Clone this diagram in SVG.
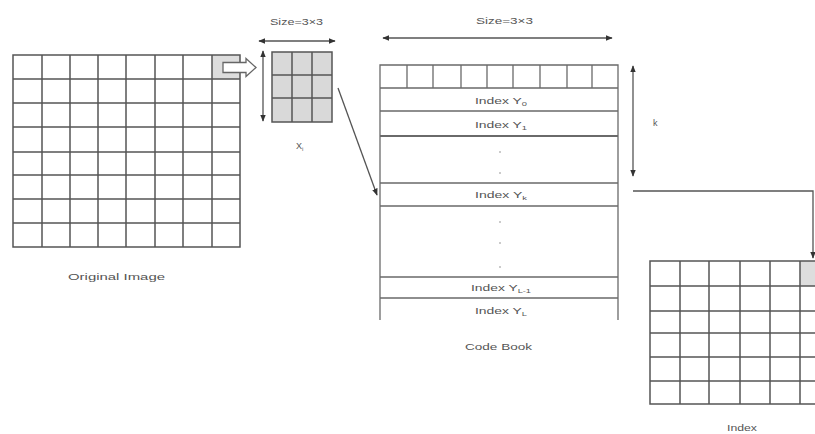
<svg xmlns="http://www.w3.org/2000/svg" width="815" height="434" viewBox="0 0 815 434">
<style>
.g{fill:none;stroke:#555;stroke-width:1.5}
.c{fill:none;stroke:#6a6a6a;stroke-width:1.3}
.t{font-family:"Liberation Sans",Arial,sans-serif;fill:#555;font-size:9px}
.l{fill:none;stroke:#555;stroke-width:1.3}
</style>
<defs>
<marker id="ah" viewBox="0 0 10 10" refX="9" refY="5" markerWidth="7" markerHeight="7" orient="auto-start-reverse" markerUnits="userSpaceOnUse">
<path d="M0,1 L10,5 L0,9 z" fill="#333"/>
</marker>
</defs>
<rect width="815" height="434" fill="#fff"/>

<g id="original-image">
<rect x="212" y="55" width="28" height="24" fill="#ddd"/>
<path class="g" d="M13,55H240V247H13Z M42,55V247 M70,55V247 M98,55V247 M126,55V247 M155,55V247 M183,55V247 M212,55V247 M13,79H240 M13,103H240 M13,127H240 M13,152H240 M13,175H240 M13,199H240 M13,223H240"/>
<text class="t" x="68" y="280" font-size="10" textLength="97" lengthAdjust="spacingAndGlyphs">Original Image</text>
</g>

<g id="block-arrow">
<path d="M223,62.5H246V58.5L256,67.5L246,76.5V72.5H223Z" fill="#fff" stroke="#666" stroke-width="1.3"/>
</g>

<g id="block-xi">
<rect x="272" y="52" width="60" height="70" fill="#d9d9d9"/>
<path class="g" d="M272,52H332V122H272Z M292,52V122 M312,52V122 M272,75H332 M272,98H332"/>
<text class="t" x="296" y="149">X<tspan font-size="6" dy="2">i</tspan></text>
<text class="t" x="270" y="25" textLength="53" lengthAdjust="spacingAndGlyphs">Size=3×3</text>
</g>

<g id="code-book">
<path class="c" d="M380,320V65H618V320 M407,65V88 M433,65V88 M461,65V88 M487,65V88 M513,65V88 M540,65V88 M567,65V88 M592,65V88 M380,88H618 M380,111H618 M380,183H618 M380,206H618 M380,277H618 M380,298H618"/>
<path d="M380,136H618" fill="none" stroke="#6a6a6a" stroke-width="2.2"/>
<text class="t" x="475" y="104" textLength="52" lengthAdjust="spacingAndGlyphs">Index Y<tspan font-size="6" dy="2">0</tspan></text>
<text class="t" x="475" y="128" textLength="52" lengthAdjust="spacingAndGlyphs">Index Y<tspan font-size="6" dy="2">1</tspan></text>
<g fill="#888"><circle cx="500" cy="152" r="0.8"/><circle cx="500" cy="173" r="0.8"/><circle cx="500" cy="222" r="0.8"/><circle cx="500" cy="243" r="0.8"/><circle cx="500" cy="267" r="0.8"/></g>
<text class="t" x="475" y="198" textLength="52" lengthAdjust="spacingAndGlyphs">Index Y<tspan font-size="6" dy="2">k</tspan></text>
<text class="t" x="471" y="291" textLength="60" lengthAdjust="spacingAndGlyphs">Index Y<tspan font-size="6" dy="2">L-1</tspan></text>
<text class="t" x="475" y="314" textLength="52" lengthAdjust="spacingAndGlyphs">Index Y<tspan font-size="6" dy="2">L</tspan></text>
<text class="t" x="465" y="350" font-size="10" textLength="67" lengthAdjust="spacingAndGlyphs">Code Book</text>
<text class="t" x="476" y="24" textLength="57" lengthAdjust="spacingAndGlyphs">Size=3×3</text>
<text class="t" x="653" y="126">k</text>
</g>

<g id="index-grid">
<rect x="800" y="261" width="15" height="25" fill="#ddd"/>
<path class="g" d="M815,261H650V404H815 M680,261V404 M709,261V404 M740,261V404 M770,261V404 M800,261V404 M650,286H815 M650,311H815 M650,333H815 M650,357H815 M650,381H815"/>
<text class="t" x="727" y="431" textLength="30" lengthAdjust="spacingAndGlyphs">Index</text>
</g>

<g id="connectors">
<line class="l" x1="263" y1="51" x2="263" y2="121" marker-start="url(#ah)" marker-end="url(#ah)"/>
<line class="l" x1="259" y1="41" x2="335" y2="41" marker-start="url(#ah)" marker-end="url(#ah)"/>
<line class="l" x1="383" y1="38" x2="612" y2="38" marker-start="url(#ah)" marker-end="url(#ah)"/>
<line class="l" x1="633" y1="66" x2="633" y2="176" marker-start="url(#ah)" marker-end="url(#ah)"/>
<line class="l" x1="338" y1="88" x2="377" y2="195" marker-end="url(#ah)"/>
<polyline class="l" points="633,191 813,191 813,258" marker-end="url(#ah)"/>
</g>
</svg>
